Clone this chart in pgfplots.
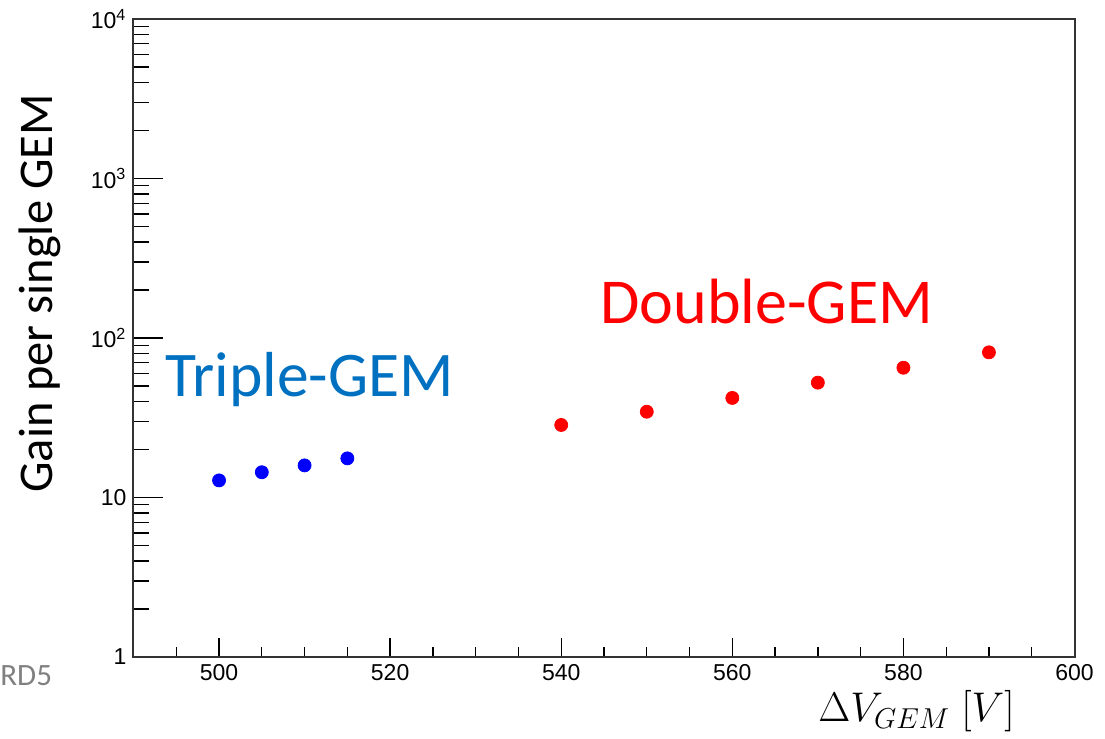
\documentclass[border=0pt]{standalone}
\usepackage{pgfplots}
\pgfplotsset{compat=1.18}
\usepackage{fontspec}
\setmainfont{Liberation Sans}
\newfontfamily\calfont{Carlito}
\definecolor{tblue}{RGB}{0,112,192}
\definecolor{axgray}{RGB}{51,51,51}
\begin{document}
\begin{tikzpicture}
\useasboundingbox (0pt,0pt) rectangle (552.5pt,369.5pt);
\begin{axis}[
  at={(66.75pt,41pt)}, anchor=south west,
  scale only axis, width=470.5pt, height=319pt,
  ymode=log, xmin=490, xmax=600, ymin=1, ymax=10000,
  xtick={500,520,...,600},
  minor xtick={495,505,510,515,525,530,535,545,550,555,565,570,575,585,590,595},
  ytick={1,10,100,1000,10000},
  yticklabels={1,10,10\textsuperscript{2},10\textsuperscript{3},10\textsuperscript{4}},
  minor ytick={2,3,4,5,6,7,8,9,20,30,40,50,60,70,80,90,200,300,400,500,600,700,800,900,2000,3000,4000,5000,6000,7000,8000,9000},
  xtick pos=bottom, ytick pos=left,
  tick align=inside,
  major x tick style={/pgfplots/major tick length=9.5pt},
  minor x tick style={/pgfplots/minor tick length=5pt},
  major y tick style={/pgfplots/major tick length=15pt},
  minor y tick style={/pgfplots/minor tick length=8pt},
  every tick/.append style={black, line width=0.65pt},
  axis line style={draw=axgray, line width=1pt},
  tick label style={font=\fontsize{11.5}{13}\selectfont},
  /pgf/number format/assume math mode=true,
  /pgf/number format/1000 sep={},
  log basis y=10,
  clip=false,
]
\addplot[only marks, mark=*, mark size=3.25pt, color=blue] coordinates {
  (500,12.8) (505,14.4) (510,15.9) (515,17.6)
};
\addplot[only marks, mark=*, mark size=3.25pt, color=red] coordinates {
  (540,28.5) (550,34.5) (560,42.1) (570,52.5) (580,65.1) (590,81.3)
};
\end{axis}
\node[rotate=90, anchor=base, inner sep=0pt, font=\calfont\fontsize{24.2}{29}\selectfont] at (26pt,222.75pt) {Gain per single GEM};
\node[anchor=base west, inner sep=0pt, text=tblue, font=\calfont\fontsize{31.8}{36}\selectfont] at (82.5pt,171.15pt) {Triple-GEM};
\node[anchor=base west, inner sep=0pt, text=red, font=\calfont\fontsize{32}{36}\selectfont] at (300pt,207.5pt) {Double-GEM};
\node[anchor=base west, inner sep=0pt, text=gray, font=\calfont\fontsize{15.5}{18}\selectfont] at (0pt,26.5pt) {RD5};
\node[anchor=base west, inner sep=0pt, font=\fontsize{20}{24}\selectfont] at (409pt,8.5pt) {$\Delta V_{\mbox{\fontsize{15.5}{18}\selectfont$GEM$}}\ [V]$};
\end{tikzpicture}
\end{document}
